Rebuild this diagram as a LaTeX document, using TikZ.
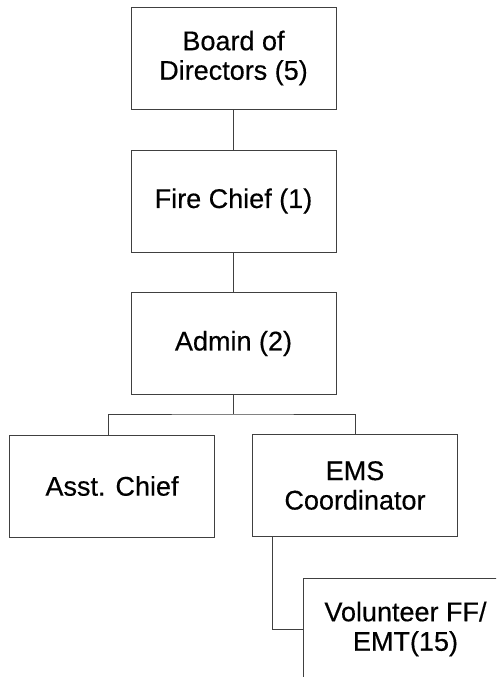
\documentclass[tikz,border=0pt]{standalone}
\usepackage{fontspec}
\setmainfont[FakeBold=0.4]{Liberation Sans}
\begin{document}
\begin{tikzpicture}[x=1pt,y=-1pt,
  box/.style={draw=black!75, line width=0.9pt, minimum width=205pt, minimum height=102pt,
    inner sep=0pt, align=center, font=\fontsize{27}{29.5}\selectfont},
  conn/.style={draw=black!75, line width=0.8pt}]
\useasboundingbox (0,0) rectangle (496,677);
\fill[white] (0,0) rectangle (496,677);
\clip (0,0) rectangle (496,677);
\node[box] (board) at (233.5,58) {Board of\\Directors (5)};
\node[box] (fire) at (233.5,201) {Fire Chief (1)};
\node[box] (admin) at (233.5,343.5) {Admin (2)};
\node[box] (asst) at (112,486) {Asst. Chief};
\node[box] (ems) at (355,485.5) {EMS\\Coordinator};
\node[box] (vol) at (405.5,629) {Volunteer FF/\\EMT(15)};
\coordinate (bus) at (233.5,414);
\draw[conn] (board.south) -- (fire.north);
\draw[conn] (fire.south) -- (admin.north);
\draw[conn] (admin.south) -- (bus);
\draw[conn] ([xshift=-4pt]asst.north) |- (bus) -| (ems.north);
\draw[conn] ([xshift=20pt]ems.south west) |- (vol.west);
\end{tikzpicture}
\end{document}
